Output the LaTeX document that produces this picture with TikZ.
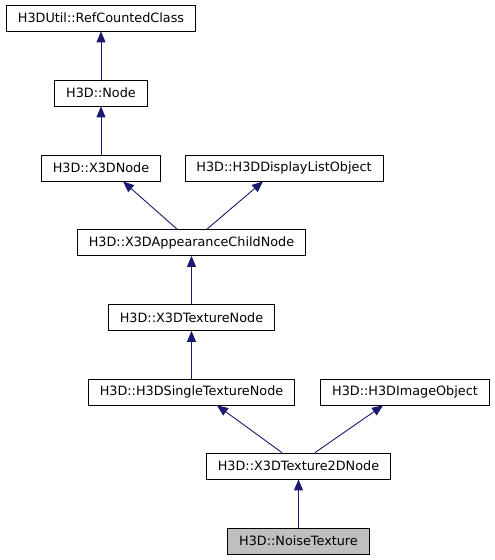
\documentclass[tikz,border=0pt]{standalone}
\usepackage{fontspec}
\newfontfamily\dejavu{DejaVu Sans}
\usetikzlibrary{arrows.meta}
\definecolor{edgeblue}{HTML}{191970}
\definecolor{leafgray}{HTML}{BFBFBF}
\begin{document}
\begin{tikzpicture}[
  x = 1bp, y = -1bp,
  cls/.style = {
    rectangle,                  % class box
    draw          = black,      % border
    line width    = .8bp,       % border width
    minimum height= 26bp,       % box height
    inner xsep    = 11.5bp,     % sep b/w border and class name
    font          = \dejavu\fontsize{12.8bp}{15bp}\selectfont,
    text          = black,      % class name color
    fill          = white,
  },
  inherit/.style = {
    draw          = edgeblue,   % edge color
    line width    = .9bp,       % edge width
    -{Triangle[length=11bp, width=9bp]},
  },
  ]
\useasboundingbox (0,0) rectangle (495,560);

% class boxes
\node at (101,   18)  [cls] (refcounted)  {H3DUtil::RefCountedClass};
\node at (101,   93)  [cls] (node)        {H3D::Node};
\node at (101,   168) [cls] (x3dnode)     {H3D::X3DNode};
\node at (284,   168) [cls] (displaylist) {H3D::H3DDisplayListObject};
\node at (191.5, 242.5)[cls] (appchild)   {H3D::X3DAppearanceChildNode};
\node at (191.5, 317.5)[cls] (texnode)    {H3D::X3DTextureNode};
\node at (191.5, 392) [cls] (singletex)   {H3D::H3DSingleTextureNode};
\node at (405,   392) [cls] (imageobj)    {H3D::H3DImageObject};
\node at (298.5, 466) [cls] (tex2d)       {H3D::X3DTexture2DNode};
\node at (298.5, 541) [cls, fill = leafgray] (noise) {H3D::NoiseTexture};

% inheritance edges
\draw [inherit] (node.north) -- (refcounted.south);
\draw [inherit] (x3dnode.north) -- (node.south);
\draw [inherit] ([xshift=-14.5bp]appchild.north) -- ([xshift=22bp]x3dnode.south);
\draw [inherit] ([xshift=15.5bp]appchild.north) -- ([xshift=-21bp]displaylist.south);
\draw [inherit] (texnode.north) -- (appchild.south);
\draw [inherit] (singletex.north) -- (texnode.south);
\draw [inherit] ([xshift=-16.5bp]tex2d.north) -- ([xshift=25.5bp]singletex.south);
\draw [inherit] ([xshift=16.5bp]tex2d.north) -- ([xshift=-22bp]imageobj.south);
\draw [inherit] (noise.north) -- (tex2d.south);
\end{tikzpicture}
\end{document}
